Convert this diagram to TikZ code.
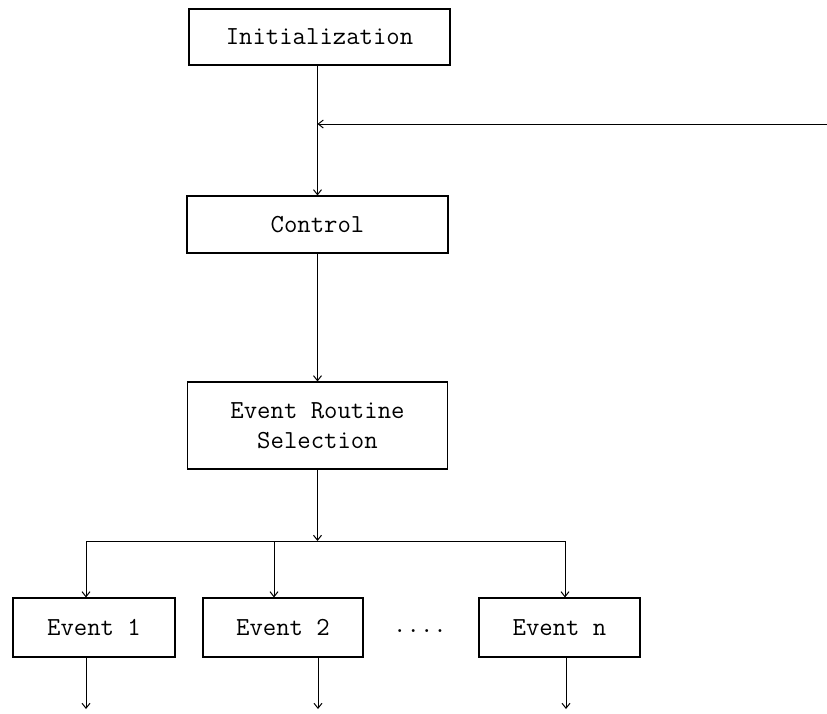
\documentclass[tikz,border=0pt]{standalone}
\usetikzlibrary{arrows.meta}
\begin{document}
\begin{tikzpicture}[x=1pt,y=-1pt,
  box/.style={draw, line width=1.1pt, inner sep=0pt, font=\ttfamily\fontsize{26}{30}\selectfont, align=center},
  lbl/.style={inner sep=0pt, font=\ttfamily\fontsize{26}{30}\selectfont},
  conn/.style={line width=1pt, -{Straight Barb[length=5pt,width=8pt]}},
  plain/.style={line width=1pt}]
\useasboundingbox (0,0) rectangle (827,713);
\node[box, minimum width=261pt, minimum height=56pt] (init) at (319.5,37) {Initialization};
\node[box, minimum width=261pt, minimum height=57pt] (ctrl) at (317.5,224.5) {Control};
\node[box, minimum width=260pt, minimum height=87pt] (ers) at (317.5,425.5) {Event Routine\\Selection};
\node[box, minimum width=162pt, minimum height=59pt] (e1) at (94,627.5) {Event 1};
\node[box, minimum width=160pt, minimum height=59pt] (e2) at (283,627.5) {Event 2};
\node[box, minimum width=161pt, minimum height=59pt] (en) at (559.5,627.5) {Event n};
\node[lbl] (dots) at (420,631) {....};
\coordinate (fbR) at (827,124);
\coordinate (bus) at (317.5,541);
\coordinate (busL) at (86,541);
\coordinate (busM) at (274,541);
\coordinate (busR) at (565,541);
\coordinate (o1) at (86,709);
\coordinate (o2) at (318,709);
\coordinate (on) at (566,709);
\draw[conn] (init.south -| ctrl.north) -- (ctrl.north);
\draw[conn] (fbR) -- (fbR -| ctrl.north);
\draw[conn] (ctrl.south) -- (ers.north);
\draw[conn] (ers.south) -- (bus);
\draw[plain] (busL) -- (busR);
\draw[conn] (busL) -- (busL |- e1.north);
\draw[conn] (busM) -- (busM |- e2.north);
\draw[conn] (busR) -- (busR |- en.north);
\draw[conn] (o1 |- e1.south) -- (o1);
\draw[conn] (o2 |- e2.south) -- (o2);
\draw[conn] (on |- en.south) -- (on);
\end{tikzpicture}
\end{document}
